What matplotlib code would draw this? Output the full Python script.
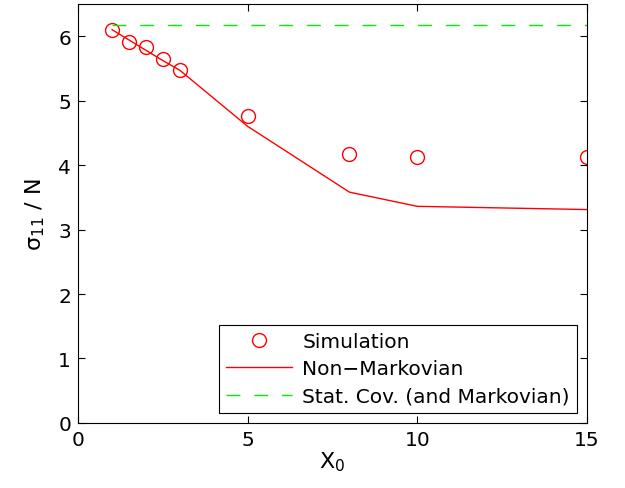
import numpy as np
import matplotlib
matplotlib.use('Agg')
import matplotlib.pyplot as plt

# simulation points
x_sim = [1, 1.5, 2, 2.5, 3, 5, 8, 10, 15]
y_sim = [6.09, 5.91, 5.83, 5.64, 5.47, 4.76, 4.17, 4.12, 4.12]

# non-markovian theory
x_nm = [1, 1.5, 2, 2.5, 3, 5, 8, 10, 15]
y_nm = [6.10, 5.94, 5.78, 5.62, 5.47, 4.60, 3.58, 3.36, 3.31]

# stationary covariance
x_stat = [1, 15]
y_stat = [6.18, 6.18]

plt.rcParams['font.family'] = 'DejaVu Sans'
plt.rcParams['font.size'] = 14.5

fig = plt.figure(figsize=(6.25, 4.89), dpi=100)
ax = fig.add_axes([0.125, 0.133, 0.814, 0.857])

ax.plot(x_sim, y_sim, 'o', mfc='none', mec='red', ms=10, mew=1, label='Simulation')
ax.plot(x_nm, y_nm, '-', color='red', lw=1, label='Non\u2212Markovian')
ax.plot(x_stat, y_stat, '--', color='#00ee00', lw=1, dashes=(10, 10), label='Stat. Cov. (and Markovian)')

ax.set_xlim(0, 15)
ax.set_ylim(0, 6.5)
ax.set_xticks([0, 5, 10, 15])
ax.set_yticks(range(7))
ax.tick_params(direction='in', top=True, right=True, length=5, labelsize=14.5, pad=5)
ax.set_xlabel('X$_0$', fontsize=16, labelpad=0)
ax.set_ylabel('\u03c3$_{11}$ / N', fontsize=16, labelpad=8)

leg = ax.legend(loc='lower right', fontsize=14.5, fancybox=False, framealpha=1,
                edgecolor='black', borderaxespad=0.5, handlelength=3.3, handletextpad=0.5,
                labelspacing=0.42, borderpad=0.35)
leg.get_frame().set_linewidth(0.8)

fig.savefig('out.png', dpi=100)
